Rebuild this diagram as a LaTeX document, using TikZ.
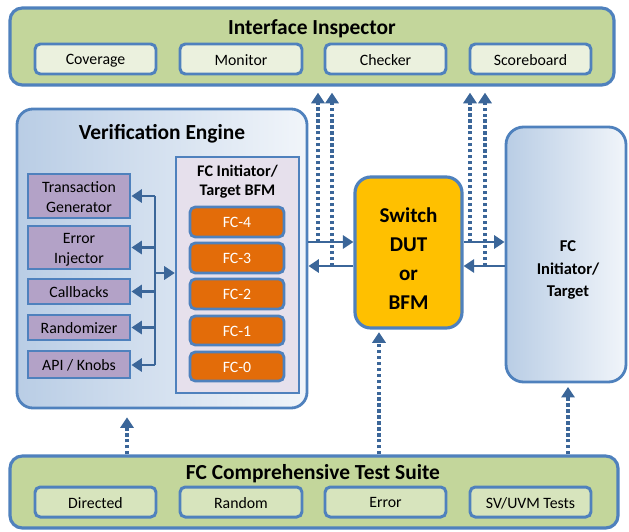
\documentclass[tikz,border=0pt]{standalone}
\usepackage{fontspec}
\setmainfont{Carlito}
\usetikzlibrary{arrows.meta,fit,positioning}

\definecolor{panelgreen}{HTML}{C3D69B}
\definecolor{itemlight}{HTML}{EBF1DE}
\definecolor{itemgreen}{HTML}{D7E4BD}
\definecolor{edgeblue}{HTML}{4F81BD}
\definecolor{engleft}{HTML}{B9CDE5}
\definecolor{engright}{HTML}{F1F5FA}
\definecolor{genpurple}{HTML}{B3A2C7}
\definecolor{bfmlav}{HTML}{E6E0EC}
\definecolor{fcorange}{HTML}{E36C09}
\definecolor{dutgold}{HTML}{FFC000}
\definecolor{flowblue}{HTML}{3B6699}

\tikzset{
  box/.style={draw=edgeblue, inner sep=0pt},
  panel/.style={box, line width=1.8pt, fill=panelgreen, rounded corners=7pt},
  itemtext/.style={align=center, text depth=0.4ex, yshift=-1.3pt, font=\fontsize{9}{11.3}\selectfont},
  insitem/.style={box, line width=1.7pt, fill=itemlight, rounded corners=3pt, label={[itemtext]center:#1}},
  suiteitem/.style={insitem=#1, fill=itemgreen},
  titletext/.style={font=\fontsize{12.2}{14}\selectfont\bfseries},
  engine/.style={box, line width=1.6pt, left color=engleft, right color=engright, rounded corners=9pt},
  genbox/.style={box, line width=1.6pt, fill=genpurple, label={[itemtext]center:#1}},
  bfmbox/.style={box, line width=1.4pt, fill=bfmlav},
  fcbox/.style={box, line width=1.6pt, fill=fcorange, rounded corners=3pt, label={[itemtext, text=white]center:#1}},
  dutbox/.style={box, line width=1.8pt, fill=dutgold, rounded corners=9pt},
  flow/.style={draw=flowblue, line width=1.7pt, -{Triangle[length=6pt,width=7.5pt]}},
  bus/.style={draw=flowblue, line width=1.7pt},
  probe/.style={draw=flowblue, line width=1.8pt, dash pattern=on 1.8pt off 1.6pt, -{Triangle[length=6pt,width=7.5pt]}}
}

\begin{document}
\begin{tikzpicture}[x=0.02cm,y=-0.02cm]
		%%%%% FRAME %%%%%
		\useasboundingbox (0,0) rectangle (629,531);
		
		%%%%% INTERFACE INSPECTOR %%%%%
		\node[panel, fit={(10,8) (614,85)}] (insp) {};
		\node[titletext] (insptitle) at (312,29) {Interface Inspector};
		\node[insitem=Coverage, fit={(35,44) (156,74)}] (cov) {};
		\node[insitem=Monitor, fit={(180,44) (302,74)}] (mon) {};
		\node[insitem=Checker, fit={(325,44) (446,74)}] (chk) {};
		\node[insitem=Scoreboard, fit={(470,44) (591,74)}] (scb) {};
		
		%%%%% VERIFICATION ENGINE %%%%%
		\node[engine, fit={(17,109) (307,408)}] (ve) {};
		\node[titletext] (vetitle) at (162,134) {Verification Engine};
		
		\node[genbox={Transaction\\Generator}, fit={(28,174) (130,218)}] (tg) {};
		\node[genbox={Error\\Injector}, fit={(28,226) (130,269)}] (ei) {};
		\node[genbox=Callbacks, fit={(28,279) (130,304)}] (cb) {};
		\node[genbox=Randomizer, fit={(28,315) (130,340)}] (rnd) {};
		\node[genbox={API / Knobs}, fit={(28,351) (130,378)}] (api) {};
		
		\node[bfmbox, fit={(176,157) (299,393)}] (bfm) {};
		\node[align=center, font=\fontsize{9.2}{10.8}\selectfont\bfseries] (bfmtitle) at (237.5,182) {FC Initiator/\\Target BFM};
		\node[fcbox=FC-4, fit={(190,207) (284,237)}] (fc4) {};
		\node[fcbox=FC-3, fit={(190,243) (284,273)}] (fc3) {};
		\node[fcbox=FC-2, fit={(190,279) (284,309)}] (fc2) {};
		\node[fcbox=FC-1, fit={(190,316) (284,345)}] (fc1) {};
		\node[fcbox=FC-0, fit={(190,352) (284,381)}] (fc0) {};
		
		\coordinate (bustop) at (155,196);
		\coordinate (busbot) at (155,365);
		\coordinate (busmid) at (155,273);
		\draw[bus] (bustop) -- (busbot);
		\draw[flow] (bustop) -- (tg.east);
		\draw[flow] (bustop |- ei.east) -- (ei.east);
		\draw[flow] (bustop |- cb.east) -- (cb.east);
		\draw[flow] (bustop |- rnd.east) -- (rnd.east);
		\draw[flow] (busbot) -- (busbot -| api.east);
		\draw[flow] (busmid) -- (busmid -| bfm.west);
		
		%%%%% DUT AND TARGET %%%%%
		\node[dutbox, fit={(355,177) (462,328)}] (dut) {};
		\node[align=center, font=\fontsize{12}{16.5}\selectfont\bfseries] (duttext) at (408.5,259) {Switch\\DUT\\or\\BFM};
		\node[engine, rounded corners=10pt, fit={(506,127) (626,382)}] (tgt) {};
		\node[align=center, font=\fontsize{9.4}{12.8}\selectfont\bfseries] (tgttext) at (568,270) {FC\\Initiator/\\Target};
		
		\coordinate (hi) at (0,242);
		\coordinate (lo) at (0,266);
		\draw[flow] (ve.east |- hi) -- (dut.west |- hi);
		\draw[flow] (dut.west |- lo) -- (ve.east |- lo);
		\draw[flow] (dut.east |- hi) -- (tgt.west |- hi);
		\draw[flow] (tgt.west |- lo) -- (dut.east |- lo);
		
		%%%%% TEST SUITE %%%%%
		\node[panel, fit={(10,456) (618,528)}] (suite) {};
		\node[titletext] (suitetitle) at (313,474) {FC Comprehensive Test Suite};
		\node[suiteitem=Directed, fit={(35,487) (156,517)}] (dir) {};
		\node[suiteitem=Random, fit={(180,487) (302,517)}] (ran) {};
		\node[suiteitem=Error, fit={(325,487) (446,517)}] (err) {};
		\node[suiteitem={SV/UVM Tests}, fit={(470,487) (591,517)}] (svt) {};
		
		%%%%% PROBES %%%%%
		\coordinate (p1) at (318,242);
		\coordinate (p2) at (332,266);
		\coordinate (p3) at (470,242);
		\coordinate (p4) at (485,266);
		\draw[probe, shorten >=3.5pt] (p1) -- (p1 |- insp.south);
		\draw[probe, shorten >=3.5pt] (p2) -- (p2 |- insp.south);
		\draw[probe, shorten >=3.5pt] (p3) -- (p3 |- insp.south);
		\draw[probe, shorten >=3.5pt] (p4) -- (p4 |- insp.south);
		
		\coordinate (t1) at (127,0);
		\coordinate (t2) at (379,0);
		\coordinate (t3) at (568,0);
		\draw[probe, shorten >=4.5pt] (suite.north -| t1) -- (ve.south -| t1);
		\draw[probe, shorten >=1.5pt] (suite.north -| t2) -- (dut.south -| t2);
		\draw[probe, shorten >=2pt] (suite.north -| t3) -- (tgt.south -| t3);
		
		%%%%% END %%%%%
\end{tikzpicture}
\end{document}
